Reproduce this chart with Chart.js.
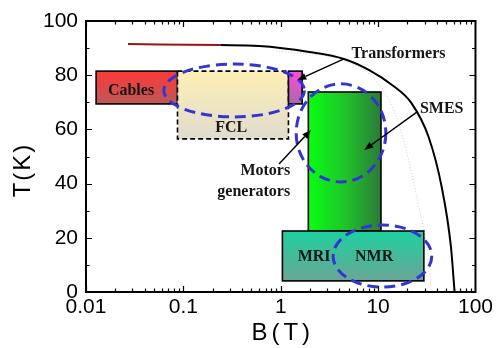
<!DOCTYPE html>
<html>
<head>
<meta charset="utf-8">
<script src="https://cdn.jsdelivr.net/npm/chart.js@4/dist/chart.umd.min.js"></script>
<style>
    html, body { margin: 0; padding: 0; background: #fff; }
</style>
</head>
<body>
<canvas id="htsChart" width="496" height="348"></canvas>
<script>
// Critical line of the conductor (field in tesla, temperature in kelvin)
const curveB = [0.027, 0.24, 0.6, 1.96, 4.46, 8.1, 13.9, 22, 33, 45, 56, 61];
const curveT = [91.5, 91.1, 90.8, 88.6, 86.0, 81.9, 76.4, 69.7, 57.2, 38.7, 16.6, 0];

// faint dotted line just inside the critical line
const faintB = [0.9, 4.7, 10, 16.3, 26, 33, 35.5];
const faintT = [89, 85, 77, 62, 32, 12, 0];

// Application regions
const regionNames = ['Cables', 'FCL', 'Transformers', 'Motors/SMES', 'MRI/NMR'];
const regionBMin = [0.0127, 0.087, 1.2, 1.92, 1.04];
const regionBMax = [0.087, 1.2, 1.66, 10.7, 29.5];
const regionTMin = [69.4, 56.5, 69.4, 22.5, 4.1];
const regionTMax = [81.5, 81.5, 81.5, 73.8, 22.5];

// Dashed rings around groups of applications
const ringBMin = [0.063, 1.44, 3.45];
const ringBMax = [1.75, 12.0, 35.6];
const ringTMin = [64.6, 40.6, 1.8];
const ringTMax = [84.1, 76.8, 24.7];

// Text labels
const labelText = ['Cables', 'FCL', 'Transformers', 'SMES', 'Motors', 'generators', 'MRI', 'NMR'];
const labelB = [0.029, 0.31, 16.2, 45, 1.25, 1.25, 2.2, 9.1];
const labelT = [74.2, 60.5, 88.0, 67.5, 44.6, 36.9, 12.9, 12.9];

// Arrows from a label to its region
const arrowFromB = [4.46, 25.0, 0.96];
const arrowFromT = [86.0, 66.4, 47.2];
const arrowToB = [1.48, 7.2, 2.04];
const arrowToT = [78.2, 52.4, 59.8];

// Axis ticks
const bTicks = [0.01, 0.1, 1, 10, 100];
const tTicks = [0, 20, 40, 60, 80, 100];
const tMinorTicks = [10, 30, 50, 70, 90];

const serifBold = 'bold 16px "Liberation Serif", "Times New Roman", serif';
const sans = '"Liberation Sans", Arial, sans-serif';

// fill style for every region
function regionFill(ctx, name, x0, y0, x1, y1) {
    let g;
    if (name === 'Motors/SMES') {
        g = ctx.createLinearGradient(x0, 0, x1, 0);
        g.addColorStop(0, '#08ff12');
        g.addColorStop(0.5, '#1fc42a');
        g.addColorStop(1, '#2c7a38');
        return g;
    }
    g = ctx.createLinearGradient(0, y0, 0, y1);
    if (name === 'Cables') {
        g.addColorStop(0, '#ff3838');
        g.addColorStop(1, '#bb5858');
    } else if (name === 'FCL') {
        g.addColorStop(0, '#fdefb4');
        g.addColorStop(1, '#e0dccf');
    } else if (name === 'Transformers') {
        g.addColorStop(0, '#ff4cda');
        g.addColorStop(1, '#a868a8');
    } else {
        g.addColorStop(0, '#1dd0a0');
        g.addColorStop(1, '#6aa696');
    }
    return g;
}

const regionsPlugin = {
    id: 'regions',
    beforeDatasetsDraw(chart) {
        const { ctx, scales } = chart;
        const sx = scales.x, sy = scales.y;
        ctx.save();
        regionNames.forEach((name, i) => {
            const x0 = sx.getPixelForValue(regionBMin[i]);
            const x1 = sx.getPixelForValue(regionBMax[i]);
            const y0 = sy.getPixelForValue(regionTMax[i]);
            const y1 = sy.getPixelForValue(regionTMin[i]);
            ctx.fillStyle = regionFill(ctx, name, x0, y0, x1, y1);
            ctx.fillRect(x0, y0, x1 - x0, y1 - y0);
            ctx.lineWidth = 1.6;
            ctx.strokeStyle = '#000';
            ctx.setLineDash(name === 'FCL' ? [5, 3] : []);
            ctx.strokeRect(x0, y0, x1 - x0, y1 - y0);
        });
        ctx.restore();
    },
    afterDatasetsDraw(chart) {
        const { ctx, scales } = chart;
        const sx = scales.x, sy = scales.y;
        ctx.save();

        // dashed rings
        ctx.strokeStyle = '#3434d2';
        ctx.lineWidth = 3;
        ctx.setLineDash([11, 6]);
        ringBMin.forEach((b, i) => {
            const x0 = sx.getPixelForValue(b), x1 = sx.getPixelForValue(ringBMax[i]);
            const y0 = sy.getPixelForValue(ringTMax[i]), y1 = sy.getPixelForValue(ringTMin[i]);
            ctx.beginPath();
            ctx.ellipse((x0 + x1) / 2, (y0 + y1) / 2, (x1 - x0) / 2, (y1 - y0) / 2, 0, 0, Math.PI * 2);
            ctx.stroke();
        });
        ctx.setLineDash([]);

        // arrows
        ctx.strokeStyle = '#000';
        ctx.fillStyle = '#000';
        ctx.lineWidth = 1.5;
        arrowFromB.forEach((b, i) => {
            const x0 = sx.getPixelForValue(b), y0 = sy.getPixelForValue(arrowFromT[i]);
            const x1 = sx.getPixelForValue(arrowToB[i]), y1 = sy.getPixelForValue(arrowToT[i]);
            const a = Math.atan2(y1 - y0, x1 - x0);
            const len = 9, half = 3.5;
            const bx = x1 - len * Math.cos(a), by = y1 - len * Math.sin(a);
            ctx.beginPath();
            ctx.moveTo(x0, y0);
            ctx.lineTo(bx, by);
            ctx.stroke();
            ctx.beginPath();
            ctx.moveTo(x1, y1);
            ctx.lineTo(bx + half * Math.sin(a), by - half * Math.cos(a));
            ctx.lineTo(bx - half * Math.sin(a), by + half * Math.cos(a));
            ctx.closePath();
            ctx.fill();
        });

        // labels
        ctx.font = serifBold;
        ctx.textBaseline = 'middle';
        labelText.forEach((t, i) => {
            ctx.textAlign = (t === 'Motors' || t === 'generators') ? 'right' : 'center';
            ctx.fillStyle = '#151515';
            ctx.fillText(t, sx.getPixelForValue(labelB[i]), sy.getPixelForValue(labelT[i]));
        });
        ctx.restore();
    },
    afterDraw(chart) {
        const { ctx, chartArea: a, scales } = chart;
        const sx = scales.x, sy = scales.y;
        ctx.save();
        ctx.strokeStyle = '#000';
        ctx.lineWidth = 2;
        ctx.strokeRect(a.left, a.top, a.right - a.left, a.bottom - a.top);

        // inward ticks on all four sides
        ctx.lineWidth = 1.2;
        ctx.beginPath();
        for (let e = -2; e < 2; e++) {
            for (let k = 1; k <= 9; k++) {
                const v = k * Math.pow(10, e);
                const x = Math.round(sx.getPixelForValue(v)) + 0.5;
                const len = k === 1 ? 6 : 3.5;
                ctx.moveTo(x, a.bottom); ctx.lineTo(x, a.bottom - len);
                ctx.moveTo(x, a.top); ctx.lineTo(x, a.top + len);
            }
        }
        tTicks.concat(tMinorTicks).forEach(v => {
            const y = Math.round(sy.getPixelForValue(v)) + 0.5;
            const len = tTicks.includes(v) ? 6 : 3.5;
            ctx.moveTo(a.left, y); ctx.lineTo(a.left + len, y);
            ctx.moveTo(a.right, y); ctx.lineTo(a.right - len, y);
        });
        ctx.stroke();

        // axis titles
        ctx.fillStyle = '#000';
        ctx.font = '24px ' + sans;
        ctx.textAlign = 'center';
        ctx.textBaseline = 'middle';
        ctx.letterSpacing = '4px';
        ctx.fillText('B(T)', (a.left + a.right) / 2 + 2, 333);
        ctx.letterSpacing = '2px';
        ctx.translate(23, 171);
        ctx.rotate(-Math.PI / 2);
        ctx.fillText('T(K)', 1, 0);
        ctx.restore();
    }
};

const curveData = curveB.map((b, i) => ({ x: b, y: curveT[i] }));
const faintData = faintB.map((b, i) => ({ x: b, y: faintT[i] }));

const chart = new Chart(document.getElementById('htsChart'), {
    type: 'scatter',
    data: {
        datasets: [
            {
                label: 'inner line',
                data: faintData,
                showLine: true,
                pointRadius: 0,
                borderColor: 'rgba(225, 170, 180, 0.7)',
                borderWidth: 1,
                borderDash: [1, 2],
                cubicInterpolationMode: 'monotone'
            },
            {
                label: 'critical line',
                data: curveData,
                showLine: true,
                pointRadius: 0,
                borderColor: '#000',
                borderWidth: 2,
                cubicInterpolationMode: 'monotone',
                segment: {
                    borderColor: c => c.p1.parsed.x <= 0.25 ? '#9c1212' : '#000'
                }
            }
        ]
    },
    options: {
        responsive: false,
        devicePixelRatio: 1,
        animation: false,
        layout: { padding: { top: 21, right: 19, left: 0, bottom: 0 } },
        plugins: {
            legend: { display: false },
            tooltip: { enabled: false }
        },
        scales: {
            x: {
                type: 'logarithmic',
                min: 0.01,
                max: 100,
                grid: { display: false, drawTicks: false },
                border: { display: false },
                afterBuildTicks: scale => { scale.ticks = bTicks.map(v => ({ value: v })); },
                afterFit: scale => { scale.height = 56; },
                ticks: {
                    color: '#000',
                    padding: 3,
                    maxRotation: 0,
                    font: { family: sans, size: 21 },
                    callback: v => String(v)
                }
            },
            y: {
                min: 0,
                max: 100,
                grid: { display: false, drawTicks: false },
                border: { display: false },
                afterBuildTicks: scale => { scale.ticks = tTicks.map(v => ({ value: v })); },
                afterFit: scale => { scale.width = 86; },
                ticks: {
                    color: '#000',
                    padding: 8,
                    font: { family: sans, size: 21 }
                }
            }
        }
    },
    plugins: [regionsPlugin]
});
</script>
</body>
</html>
